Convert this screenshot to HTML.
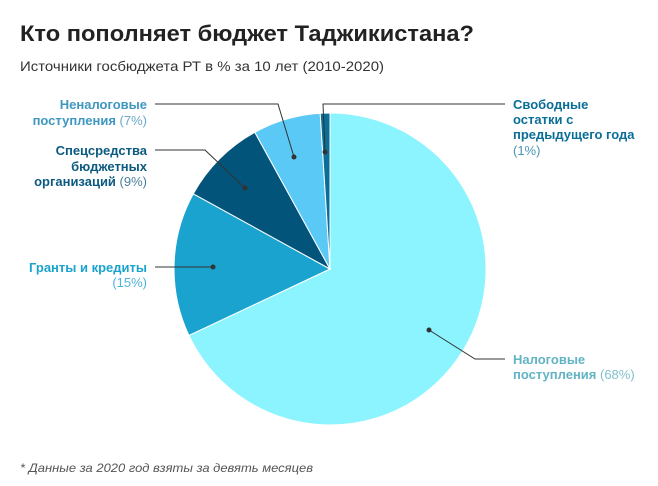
<!DOCTYPE html>
<html><head><meta charset="utf-8"><style>
body{margin:0;background:#fff;width:658px;height:481px;overflow:hidden;font-family:"Liberation Sans",Arial,sans-serif}
</style></head><body>
<svg width="658" height="481" xmlns="http://www.w3.org/2000/svg" font-family="Liberation Sans, Arial, sans-serif">
<text x="20" y="41" font-size="22" font-weight="bold" fill="#222" textLength="454" lengthAdjust="spacingAndGlyphs">Кто пополняет бюджет Таджикистана?</text>
<text x="20" y="71" font-size="14" fill="#333" textLength="364" lengthAdjust="spacingAndGlyphs">Источники госбюджета РТ в % за 10 лет (2010-2020)</text>
<g stroke="#fff" stroke-width="1">
<path d="M330,269 L330,113 A156,156 0 1 1 188.9,335.4 Z" fill="#8cf4fe"/>
<path d="M330,269 L188.9,335.4 A156,156 0 0 1 193.3,193.8 Z" fill="#1ba3cf"/>
<path d="M330,269 L193.3,193.8 A156,156 0 0 1 254.8,132.3 Z" fill="#03547a"/>
<path d="M330,269 L254.8,132.3 A156,156 0 0 1 320.2,113.3 Z" fill="#5bc9f5"/>
<path d="M330,269 L320.2,113.3 A156,156 0 0 1 330,113 Z" fill="#0a6e97"/>
</g>
<g stroke="#333" stroke-width="1" fill="none">
<polyline points="155,104 278,104 294,157"/>
<polyline points="155,150 205,150 245,188"/>
<polyline points="155,267 213,267"/>
<polyline points="325,152 323,104 505,104"/>
<polyline points="429,330 475,359 505,359"/>
</g>
<g fill="#333"><circle cx="294" cy="157" r="2.5"/><circle cx="245" cy="188" r="2.5"/><circle cx="213" cy="267" r="2.5"/><circle cx="325" cy="152" r="2.5"/><circle cx="429" cy="330" r="2.5"/></g>
<g font-size="13" text-anchor="end">
<text x="147" y="109" fill="#3f97c0" font-weight="bold">Неналоговые</text>
<text x="147" y="125" fill="#3f97c0"><tspan font-weight="bold">поступления</tspan><tspan fill="#6aa9c8"> (7%)</tspan></text>
<text x="147" y="155" fill="#0c5a80" font-weight="bold">Спецсредства</text>
<text x="147" y="171" fill="#0c5a80" font-weight="bold">бюджетных</text>
<text x="147" y="186" fill="#0c5a80"><tspan font-weight="bold">организаций</tspan><tspan fill="#4a7f9c"> (9%)</tspan></text>
<text x="147" y="272" fill="#1ba3cf" font-weight="bold">Гранты и кредиты</text>
<text x="147" y="287" fill="#4fb3d9">(15%)</text>
</g>
<g font-size="13">
<text x="513" y="109" fill="#0a6e97" font-weight="bold">Свободные</text>
<text x="513" y="124" fill="#0a6e97" font-weight="bold">остатки с</text>
<text x="513" y="139" fill="#0a6e97" font-weight="bold">предыдущего года</text>
<text x="513" y="155" fill="#4a94b4">(1%)</text>
<text x="513" y="364" fill="#62b3c3" font-weight="bold">Налоговые</text>
<text x="513" y="379" fill="#62b3c3"><tspan font-weight="bold">поступления</tspan><tspan fill="#80c0cc"> (68%)</tspan></text>
</g>
<text x="20" y="472" font-size="12" font-style="italic" fill="#555" textLength="293" lengthAdjust="spacingAndGlyphs">* Данные за 2020 год взяты за девять месяцев</text>
</svg>
</body></html>
